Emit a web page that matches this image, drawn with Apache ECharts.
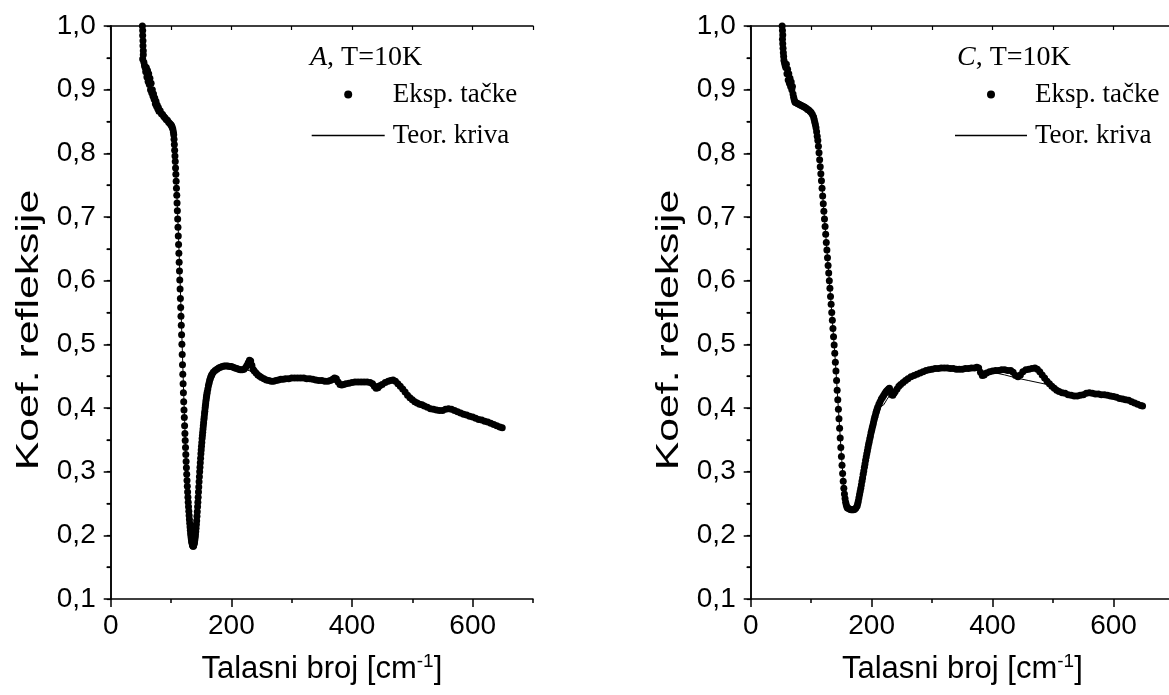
<!DOCTYPE html>
<html><head><meta charset="utf-8">
<script src="https://cdn.jsdelivr.net/npm/echarts@6/dist/echarts.min.js"></script>
<style>html,body{margin:0;padding:0;background:#fff}#c{width:1169px;height:695px}</style>
</head><body><div id="c"></div><script>
// ---- data ----
const xTickValues = [0, 200, 400, 600];
const panelLetters = ['A', 'C'];
const legendNames = ['Eksp. tačke', 'Teor. kriva'];
const yTitle = 'Koef. refleksije';

// Sample A, T=10K : experimental points [wavenumber, reflectivity]
const expA = [
[52.5,1.000],[53,0.993],[53,0.985],[53.5,0.977],[53.5,0.969],[54,0.961],[54,0.955],[53,0.948],[55,0.943],[56,0.938],
[57,0.935],[58,0.928],[59,0.935],[60,0.920],[61,0.930],[62,0.913],[63,0.925],[64,0.908],[65,0.918],[66,0.900],
[67,0.910],[68,0.895],[69,0.900],[70,0.890],[71,0.893],[72,0.885],[73,0.887],[74,0.878],[75,0.882],[76,0.874],
[77,0.876],[78,0.870],[79,0.872],[80,0.866],[82,0.867],[84,0.862],[86,0.861],[88,0.858],[90,0.856],[92,0.853],
[94,0.852],[96,0.849],[98,0.847],[100,0.845],[101,0.843],[102,0.841],[103,0.838],[104,0.833],
[104.5,0.829],[105,0.822],[105.5,0.814],[106,0.805],[106.5,0.796],[107,0.787],[107.5,0.777],[108,0.767],[108.5,0.756],[109,0.745],
[109.5,0.734],[110,0.722],[110.5,0.710],[111,0.697],[111.5,0.684],[112,0.670],[112.5,0.657],[113,0.643],[113.5,0.629],[114,0.615],
[114.5,0.601],[115,0.587],[115.5,0.572],[116,0.558],[116.5,0.544],[117,0.530],[117.5,0.515],[118,0.500],[118.5,0.484],[119,0.468],
[119.5,0.453],[120,0.438],[120.5,0.424],[121,0.410],[121.5,0.397],[122,0.385],[122.5,0.372],[123,0.360],[123.5,0.349],[124,0.338],
[124.5,0.327],[125,0.316],[125.5,0.306],[126,0.296],[126.5,0.286],[127,0.277],[127.5,0.268],[128,0.260],[128.5,0.252],[129,0.245],
[129.5,0.238],[130,0.231],[130.5,0.225],[131,0.219],[131.5,0.213],[132,0.208],[132.5,0.203],[133,0.199],[133.5,0.195],[134,0.192],
[134.5,0.189],[135,0.187],[135.5,0.185],[136,0.184],[136.5,0.183],[137,0.183],[137.5,0.184],[138,0.186],[138.5,0.188],[139,0.190],
[139.5,0.193],[140,0.197],[140.5,0.201],[141,0.206],[141.5,0.211],[142,0.217],[142.5,0.223],[143,0.230],[143.5,0.237],[144,0.245],
[144.5,0.252],[145,0.260],[145.5,0.268],[146,0.276],[146.5,0.284],[147,0.292],[147.5,0.300],[148,0.307],[148.5,0.314],[149,0.321],
[149.5,0.328],[150,0.334],[150.5,0.340],[151,0.346],[151.5,0.352],[152,0.357],[152.5,0.362],[153,0.367],[153.5,0.372],[154,0.377],
[154.5,0.382],[155,0.386],[155.5,0.391],[156,0.395],[156.5,0.400],[157,0.404],[157.5,0.408],[158,0.412],[158.5,0.416],[159,0.419],
[159.5,0.422],[160,0.425],[161,0.430],[162,0.435],[163,0.439],[164,0.443],[165,0.446],[166,0.449],[167,0.451],[168,0.453],
[170,0.456],[173,0.459],[176,0.461],[179,0.463],[182,0.464],[185,0.465],[188,0.466],[191,0.466],[194,0.466],[197,0.465],
[200,0.465],[203,0.464],[206,0.463],[209,0.462],[212,0.461],[215,0.460],[218,0.460],[221,0.461],[224,0.464],[226,0.467],
[228,0.471],[230,0.475],[232,0.474],[234,0.467],[236,0.461],[238,0.458],[241,0.455],[244,0.452],[247,0.450],[250,0.448],
[254,0.446],[258,0.444],[262,0.443],[266,0.442],[270,0.442],[274,0.443],[278,0.444],[282,0.445],[286,0.445],[290,0.446],
[295,0.446],[300,0.447],[305,0.447],[310,0.447],[315,0.447],[320,0.447],[325,0.446],[330,0.446],[335,0.445],[340,0.444],
[345,0.443],[350,0.443],[355,0.442],[360,0.442],[364,0.443],[368,0.445],[371,0.447],[374,0.446],[377,0.441],[380,0.437],
[383,0.436],[386,0.437],[390,0.438],[395,0.439],[400,0.440],[405,0.441],[410,0.441],[415,0.441],[420,0.441],[425,0.441],
[430,0.440],[434,0.438],[437,0.434],[440,0.431],[443,0.432],[446,0.435],[450,0.437],[455,0.440],[460,0.442],[464,0.443],
[468,0.444],[472,0.442],[476,0.438],[480,0.434],[484,0.430],[488,0.425],[492,0.420],[496,0.416],[500,0.413],[504,0.410],
[508,0.408],[512,0.406],[516,0.405],[520,0.403],[525,0.401],[530,0.399],[535,0.398],[540,0.397],[545,0.396],[550,0.396],
[555,0.398],[560,0.399],[565,0.398],[570,0.396],[575,0.394],[580,0.392],[585,0.390],[590,0.389],[595,0.387],[600,0.386],
[605,0.384],[610,0.382],[615,0.381],[620,0.379],[625,0.378],[630,0.376],[635,0.374],[640,0.372],[645,0.370],[649,0.369]
];
// Sample A : theoretical curve
const teoA = [
[98,0.848],[102,0.840],[104,0.830],[106,0.808],[108,0.772],[110,0.728],[112,0.680],[114,0.628],[116,0.572],[118,0.513],
[120,0.452],[122,0.395],[124,0.343],[126,0.297],[128,0.260],[130,0.230],[132,0.206],[134,0.190],[136,0.183],[138,0.185],
[140,0.196],[142,0.215],[144,0.243],[146,0.275],[148,0.306],[150,0.334],[152,0.357],[154,0.377],[156,0.395],[158,0.411],
[160,0.424],[164,0.442],[168,0.452],[175,0.460],[185,0.464],[195,0.465],[205,0.464],[215,0.461],[225,0.460],[235,0.457],
[245,0.452],[260,0.446],[280,0.444],[300,0.446],[320,0.447],[340,0.444],[360,0.442],[380,0.439],[400,0.440],[420,0.440],
[440,0.438],[460,0.440],[470,0.440],[480,0.433],[490,0.423],[500,0.414],[520,0.404],[540,0.397],[560,0.397],[580,0.392],
[600,0.386],[620,0.379],[640,0.372],[650,0.368]
];
// Sample C, T=10K : experimental points
const expC = [
[52,1.000],[52.5,0.993],[53,0.986],[52.5,0.979],[53,0.972],[53.5,0.965],[54,0.958],[54.5,0.952],[55,0.946],[56,0.942],
[57,0.938],[58,0.935],[59,0.940],[60,0.925],[61,0.932],[62,0.915],[63,0.925],[64,0.910],[65,0.918],[66,0.905],
[67,0.912],[68,0.900],[69,0.905],[70,0.893],[71,0.888],[72,0.884],[73,0.881],[74,0.880],[76,0.879],[78,0.878],
[80,0.877],[82,0.876],[84,0.875],[86,0.874],[88,0.873],[90,0.872],[92,0.871],[94,0.869],[96,0.868],[98,0.866],
[100,0.864],[102,0.861],[104,0.857],[105,0.853],[106,0.849],[107,0.845],[108,0.840],[109,0.834],[110,0.827],[111,0.820],
[112,0.811],[113,0.801],[114,0.790],[115,0.779],[116,0.768],[117,0.757],[118,0.745],[119,0.733],[120,0.721],[121,0.709],
[122,0.697],[123,0.685],[124,0.673],[125,0.660],[126,0.648],[127,0.636],[128,0.624],[129,0.612],[130,0.600],[131,0.588],
[132,0.575],[133,0.563],[134,0.550],[135,0.538],[136,0.525],[137,0.512],[138,0.499],[139,0.486],[140,0.472],[141,0.458],
[142,0.443],[143,0.428],[144,0.413],[145,0.398],[146,0.383],[147,0.368],[148,0.353],[149,0.338],[150,0.324],[151,0.310],
[152,0.297],[153,0.285],[154,0.274],[155,0.265],[156,0.258],[157,0.252],[158,0.248],[159,0.245],[160,0.243],[162,0.242],
[164,0.241],[166,0.240],[168,0.240],[170,0.240],[172,0.241],[174,0.243],[176,0.246],[177,0.250],[178,0.254],[179,0.259],
[180,0.264],[181,0.269],[182,0.274],[183,0.279],[184,0.285],[185,0.290],[186,0.296],[187,0.301],[188,0.307],[189,0.312],
[190,0.318],[191,0.323],[192,0.328],[193,0.333],[194,0.338],[195,0.343],[196,0.347],[197,0.352],[198,0.356],[199,0.361],
[200,0.365],[201,0.369],[202,0.373],[203,0.377],[204,0.381],[205,0.385],[206,0.388],[207,0.392],[208,0.395],[209,0.398],
[210,0.401],[212,0.406],[214,0.410],[216,0.414],[218,0.417],[220,0.420],[222,0.423],[224,0.426],[226,0.428],[228,0.430],
[229.5,0.431],[231,0.426],[233,0.421],[235,0.420],[237,0.423],[239,0.426],[242,0.430],[245,0.434],[248,0.437],[252,0.440],
[256,0.443],[260,0.446],[265,0.449],[270,0.451],[275,0.453],[280,0.455],[285,0.457],[290,0.459],[295,0.460],[300,0.461],
[305,0.462],[310,0.462],[315,0.463],[320,0.463],[325,0.463],[330,0.462],[335,0.462],[340,0.461],[345,0.461],[350,0.461],
[355,0.462],[360,0.462],[365,0.463],[370,0.463],[374,0.464],[377,0.463],[380,0.456],[383,0.451],[386,0.452],[390,0.455],
[395,0.457],[400,0.458],[405,0.459],[410,0.459],[415,0.460],[420,0.460],[425,0.459],[430,0.459],[434,0.456],[438,0.451],
[442,0.449],[446,0.452],[450,0.457],[455,0.460],[460,0.461],[465,0.462],[470,0.463],[474,0.461],[478,0.457],[482,0.452],
[486,0.447],[490,0.442],[494,0.438],[498,0.434],[502,0.431],[506,0.428],[510,0.426],[515,0.424],[520,0.423],[525,0.421],
[530,0.420],[535,0.419],[540,0.419],[545,0.420],[550,0.421],[555,0.423],[560,0.424],[565,0.423],[570,0.422],[575,0.422],
[580,0.421],[585,0.421],[590,0.420],[595,0.419],[600,0.418],[605,0.417],[610,0.415],[615,0.414],[620,0.413],[625,0.412],
[630,0.410],[635,0.408],[640,0.406],[645,0.404],[648,0.403]
];
// Sample C : theoretical curve
const teoC = [
[100,0.866],[104,0.858],[108,0.842],[112,0.812],[116,0.770],[120,0.722],[125,0.661],[130,0.600],[135,0.538],[140,0.473],
[145,0.399],[150,0.326],[153,0.288],[156,0.260],[160,0.245],[165,0.241],[170,0.241],[175,0.245],[180,0.263],[185,0.290],
[190,0.317],[195,0.343],[200,0.365],[205,0.384],[210,0.398],[215,0.402],[220,0.405],[225,0.413],[230,0.420],[236,0.429],
[245,0.435],[250,0.439],[260,0.446],[280,0.455],[300,0.461],[320,0.463],[340,0.461],[360,0.462],[380,0.458],[400,0.456],
[420,0.452],[440,0.447],[460,0.443],[480,0.439],[495,0.436],[505,0.430],[515,0.425],[530,0.420],[550,0.420],[570,0.422],
[590,0.420],[610,0.415],[630,0.410],[648,0.403]
];

// ---- chart ----
const SANS = '"Liberation Sans", Arial, sans-serif';
const SERIF = '"Liberation Serif", "Times New Roman", serif';
const BLACK = '#000';
const grids = [
  {left: 110.7, top: 26, width: 422.3, height: 573, outerBoundsMode: 'none', containLabel: false},
  {left: 750.7, top: 26, width: 423.3, height: 573, outerBoundsMode: 'none', containLabel: false}
];
const legendPos = [{left: 311.7, w: 73}, {left: 955, w: 72}];
const titlePos = [310, 957];
const yTitlePos = [[29, 330], [669, 330]];
const expData = [expA, expC];
const teoData = [teoA, teoC];

const axisLine = {show: true, lineStyle: {color: BLACK, width: 1.5}};
const xAxes = [], yAxes = [], series = [], legends = [], titles = [], graphics = [];
grids.forEach((g, p) => {
  xAxes.push({
    gridIndex: p, type: 'value', position: 'bottom', min: 0, max: 700, interval: 100,
    axisLine: axisLine,
    axisTick: {show: true, inside: false, length: 8, customValues: xTickValues, lineStyle: {color: BLACK, width: 1.5}},
    axisLabel: {show: true, customValues: xTickValues, color: BLACK, fontSize: 28, fontFamily: SANS, margin: 13},
    splitLine: {show: false},
    name: 'Talasni broj [cm{sup|-1}]', nameLocation: 'middle', nameGap: 53,
    nameTextStyle: {color: BLACK, fontSize: 31, fontFamily: SANS, lineHeight: 34,
      rich: {sup: {fontSize: 19, fontFamily: SANS, color: BLACK, verticalAlign: 'top', lineHeight: 34, padding: [0, 0, 12, 0]}}}
  });
  xAxes.push({
    gridIndex: p, type: 'value', position: 'bottom', min: 0, max: 700, interval: 100,
    axisLine: {show: false},
    axisTick: {show: true, inside: false, length: 4, lineStyle: {color: BLACK, width: 1.5}},
    axisLabel: {show: false}, splitLine: {show: false}
  });
  xAxes.push({
    gridIndex: p, type: 'value', position: 'top', min: 0, max: 700, interval: 100,
    axisLine: axisLine,
    axisTick: {show: true, inside: true, length: 4, lineStyle: {color: BLACK, width: 1.2}},
    axisLabel: {show: false}, splitLine: {show: false}
  });
  yAxes.push({
    gridIndex: p, type: 'value', position: 'left', min: 0.1, max: 1.0, interval: 0.1,
    axisLine: axisLine,
    axisTick: {show: true, inside: false, length: 7, lineStyle: {color: BLACK, width: 1.5}},
    minorTick: {show: true, splitNumber: 2, length: 4, lineStyle: {color: BLACK, width: 1.5}},
    axisLabel: {color: BLACK, fontSize: 28, fontFamily: SANS, margin: 15,
      formatter: v => v.toFixed(1).replace('.', ',')},
    splitLine: {show: false}
  });
  yAxes.push({
    gridIndex: p, type: 'value', position: 'right', min: 0.1, max: 1.0, interval: 0.05,
    axisLine: axisLine,
    axisTick: {show: true, inside: true, length: 4, lineStyle: {color: BLACK, width: 1.2}},
    axisLabel: {show: false}, splitLine: {show: false}
  });
  series.push({
    name: legendNames[0], type: 'scatter', xAxisIndex: 3 * p, yAxisIndex: 2 * p,
    data: expData[p], symbol: 'circle', symbolSize: 7,
    itemStyle: {color: BLACK, opacity: 1}, clip: false, animation: false, z: 2
  });
  series.push({
    name: legendNames[1], type: 'line', xAxisIndex: 3 * p, yAxisIndex: 2 * p,
    data: teoData[p], symbol: 'none', showSymbol: false, smooth: false,
    lineStyle: {color: BLACK, width: 1}, itemStyle: {color: BLACK}, animation: false, z: 3
  });
  legends.push({
    orient: 'vertical', left: legendPos[p].left, top: 81, padding: 0,
    itemWidth: legendPos[p].w, itemHeight: 8, itemGap: 14,
    selectedMode: false,
    data: [
      {name: legendNames[0], icon: 'circle', itemStyle: {color: BLACK, opacity: 1}},
      {name: legendNames[1], icon: 'path://M0,0H100V2H0Z', itemStyle: {color: BLACK, opacity: 1}}
    ],
    textStyle: {color: BLACK, fontSize: 27, fontFamily: SERIF, lineHeight: 27, padding: [0, 0, 0, 3]}
  });
  titles.push({
    text: '{i|' + panelLetters[p] + '}, T=10K', left: titlePos[p], top: 44, padding: 0,
    textStyle: {color: BLACK, fontSize: 28, fontWeight: 'normal', fontFamily: SERIF, lineHeight: 28,
      rich: {i: {fontStyle: 'italic', fontSize: 28, fontFamily: SERIF, color: BLACK, lineHeight: 28}}}
  });
  // y-axis title (stretched along its reading direction as in the reference)
  graphics.push({
    type: 'text', x: yTitlePos[p][0], y: yTitlePos[p][1], rotation: Math.PI / 2, scaleX: 1.38, scaleY: 1,
    style: {text: yTitle, fill: BLACK, font: '31px ' + SANS, align: 'center', verticalAlign: 'middle'}
  });
});

const chart = echarts.init(document.getElementById('c'), null, {renderer: 'canvas'});
chart.setOption({
  backgroundColor: '#fff',
  animation: false,
  title: titles,
  legend: legends,
  grid: grids,
  xAxis: xAxes,
  yAxis: yAxes,
  series: series,
  graphic: graphics
});
</script></body></html>
